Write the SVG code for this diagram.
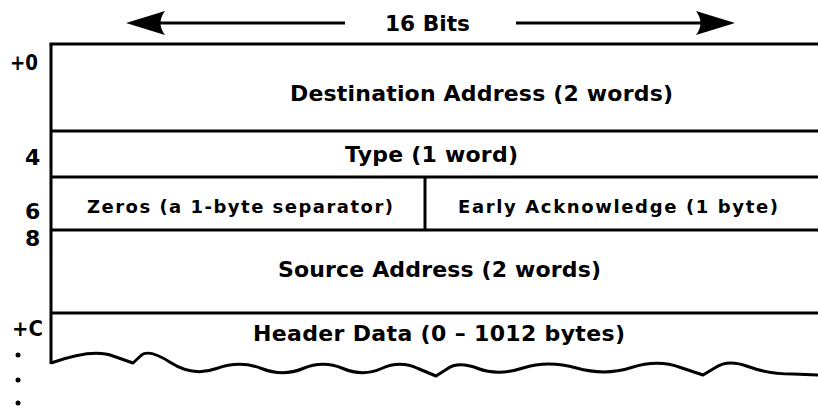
<svg xmlns="http://www.w3.org/2000/svg" width="818" height="406" viewBox="0 0 818 406">
<style>
.t{font-family:"DejaVu Sans","Liberation Sans",Arial,sans-serif;font-weight:bold;fill:#000;font-size:22px;}
.s{font-size:18px;}
.o{font-size:22px;}
.ln{stroke:#000;stroke-width:3;fill:none;}
.hd{fill:#000;}
</style>
<rect x="0" y="0" width="818" height="406" fill="#fff"/>
<g id="width-indicator">
  <line class="ln" x1="158" y1="23" x2="345" y2="23"/>
  <path class="hd" d="M126,23 L165,11 Q156,23 165,35 Z"/>
  <line class="ln" x1="516" y1="23" x2="702" y2="23"/>
  <path class="hd" d="M735,23 L696,11 Q705,23 696,35 Z"/>
  <text class="t" x="385" y="31" textLength="85" lengthAdjust="spacingAndGlyphs">16 Bits</text>
</g>
<g id="connectors">
  <line class="ln" x1="51" y1="44" x2="51" y2="364"/>
  <line class="ln" x1="49.5" y1="44" x2="818" y2="44"/>
  <line class="ln" x1="51" y1="131" x2="818" y2="131"/>
  <line class="ln" x1="51" y1="177" x2="818" y2="177"/>
  <line class="ln" x1="425" y1="177" x2="425" y2="230"/>
  <line class="ln" x1="51" y1="230" x2="818" y2="230"/>
  <line class="ln" x1="51" y1="313" x2="818" y2="313"/>
  <path class="ln" stroke-linejoin="round" d="M51,363 Q93,348 113,356 L133,363 L140.5,356 Q148,348 170.5,362.5 Q193,377 216.5,368.5 Q240,360 261.5,368.5 Q283,377 303,368.5 Q323,360 343,368.5 Q363,377 381.5,368.5 Q400,360 418,368.5 L436,376 L447,369 Q458,361 478,368.5 Q498,376 523,368 Q548,360 576.5,368 Q605,376 631.5,367.5 Q658,359 680.5,367.5 L703,375 L715.5,367.5 Q728,359 748,366.5 Q768,374 793,374 L818,375"/>
</g>
<g id="offsets">
  <text class="t o" x="10" y="70" textLength="28" lengthAdjust="spacingAndGlyphs">+0</text>
  <text class="t o" x="25" y="165">4</text>
  <text class="t o" x="25" y="219">6</text>
  <text class="t o" x="25" y="246">8</text>
  <text class="t o" x="12" y="336" textLength="31" lengthAdjust="spacingAndGlyphs">+C</text>
  <circle cx="18" cy="355" r="2.5"/>
  <circle cx="18" cy="380" r="2.5"/>
  <circle cx="18" cy="403" r="2.5"/>
</g>
<g id="node-destination">
  <text class="t" x="290" y="101" textLength="383" lengthAdjust="spacing">Destination Address (2 words)</text>
</g>
<g id="node-type">
  <text class="t" x="345" y="162" textLength="173" lengthAdjust="spacing">Type (1 word)</text>
</g>
<g id="node-zeros">
  <text class="t s" x="87" y="213" textLength="306" lengthAdjust="spacing">Zeros (a 1-byte separator)</text>
</g>
<g id="node-early-ack">
  <text class="t s" x="458" y="213" textLength="320" lengthAdjust="spacing">Early Acknowledge (1 byte)</text>
</g>
<g id="node-source">
  <text class="t" x="278" y="277" textLength="323" lengthAdjust="spacing">Source Address (2 words)</text>
</g>
<g id="node-header">
  <text class="t" x="253" y="341" textLength="372" lengthAdjust="spacing">Header Data (0 – 1012 bytes)</text>
</g>
</svg>
